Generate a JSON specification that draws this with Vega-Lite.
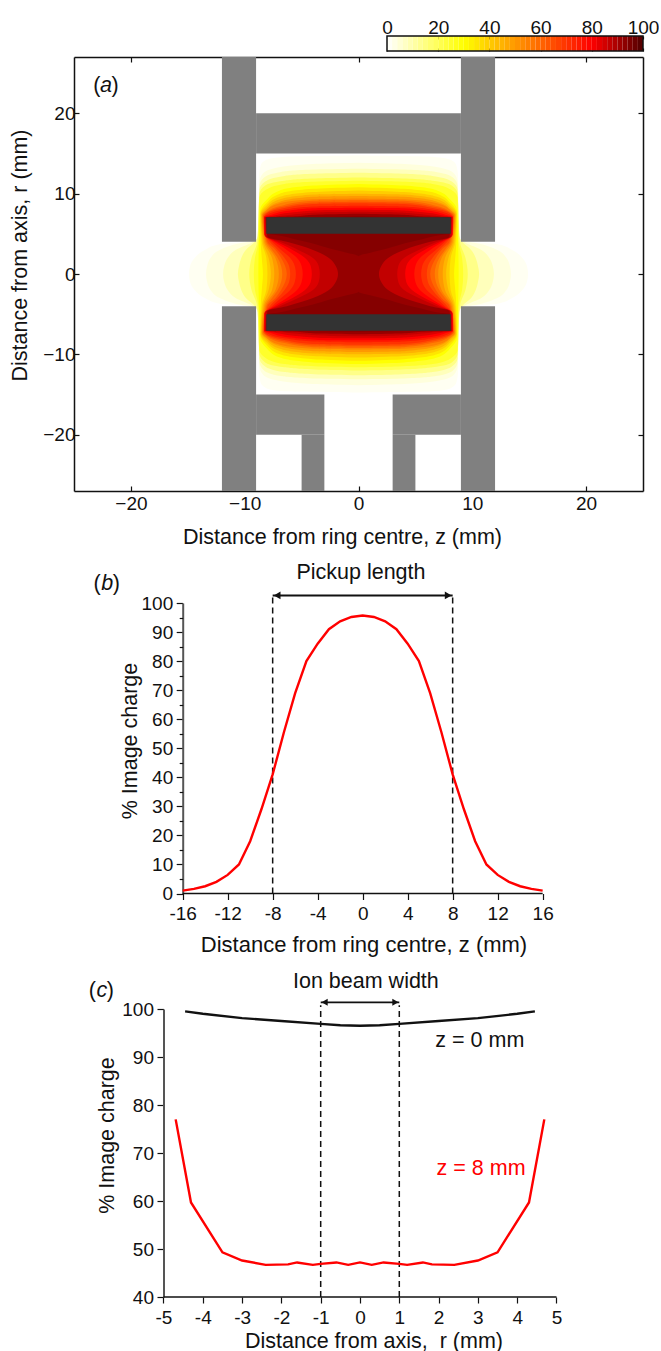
{"$schema":"https://vega.github.io/schema/vega-lite/v6.json","padding":{"left":9,"top":18,"right":0,"bottom":0},"background":"white","bounds":"flush","spacing":0,"config":{"view":{"stroke":null},"font":"Liberation Sans","axis":{"grid":false,"labelFont":"Liberation Sans","titleFont":"Liberation Sans","labelFontSize":19,"titleFontSize":21.5,"titleFontWeight":"normal","labelColor":"#111","titleColor":"#111","tickColor":"#111","domainColor":"#111","domainWidth":1.5,"tickWidth":1.2,"zindex":1,"labelOverlap":false,"labelFlush":false,"titleBaseline":"middle"},"text":{"font":"Liberation Sans","fontSize":21.5,"color":"#111"}},"vconcat":[
{"width":569,"height":15,"resolve":{"axis":{"x":"independent"}},"layer":[
{"data":{"values":[{"a":0,"b":2,"v":1},{"a":2,"b":4,"v":3},{"a":4,"b":6,"v":5},{"a":6,"b":8,"v":7},{"a":8,"b":10,"v":9},{"a":10,"b":12,"v":11},{"a":12,"b":14,"v":13},{"a":14,"b":16,"v":15},{"a":16,"b":18,"v":17},{"a":18,"b":20,"v":19},{"a":20,"b":22,"v":21},{"a":22,"b":24,"v":23},{"a":24,"b":26,"v":25},{"a":26,"b":28,"v":27},{"a":28,"b":30,"v":29},{"a":30,"b":32,"v":31},{"a":32,"b":34,"v":33},{"a":34,"b":36,"v":35},{"a":36,"b":38,"v":37},{"a":38,"b":40,"v":39},{"a":40,"b":42,"v":41},{"a":42,"b":44,"v":43},{"a":44,"b":46,"v":45},{"a":46,"b":48,"v":47},{"a":48,"b":50,"v":49},{"a":50,"b":52,"v":51},{"a":52,"b":54,"v":53},{"a":54,"b":56,"v":55},{"a":56,"b":58,"v":57},{"a":58,"b":60,"v":59},{"a":60,"b":62,"v":61},{"a":62,"b":64,"v":63},{"a":64,"b":66,"v":65},{"a":66,"b":68,"v":67},{"a":68,"b":70,"v":69},{"a":70,"b":72,"v":71},{"a":72,"b":74,"v":73},{"a":74,"b":76,"v":75},{"a":76,"b":78,"v":77},{"a":78,"b":80,"v":79},{"a":80,"b":82,"v":81},{"a":82,"b":84,"v":83},{"a":84,"b":86,"v":85},{"a":86,"b":88,"v":87},{"a":88,"b":90,"v":89},{"a":90,"b":92,"v":91},{"a":92,"b":94,"v":93},{"a":94,"b":96,"v":95},{"a":96,"b":98,"v":97},{"a":98,"b":100,"v":99}]},"mark":{"type":"rect"},"encoding":{"x":{"field":"a","type":"quantitative","scale":{"domain":[-122.27,100],"nice":false,"zero":false},"axis":{"orient":"top","domain":false,"values":[0,20,40,60,80,100],"title":null,"tickSize":-3,"labelPadding":2,"labelExpr":"''+datum.value"}},"x2":{"field":"b"},"y":{"datum":0,"type":"quantitative","scale":{"domain":[0,1],"nice":false},"axis":null},"y2":{"datum":1},"color":{"field":"v","type":"quantitative","legend":null,"scale":{"domain":[0,30,55,80,100],"range":["#ffffff","#ffff00","#ff8000","#ff0000","#500000"],"interpolate":"rgb"}}}},
{"data":{"values":[{"a":0,"b":100}]},"mark":{"type":"rect","fillOpacity":0,"stroke":"#111","strokeWidth":1.5},"encoding":{"x":{"field":"a","type":"quantitative","scale":{"domain":[-122.27,100],"nice":false,"zero":false},"axis":{"orient":"bottom","domain":false,"values":[0,20,40,60,80,100],"title":null,"tickSize":-3,"labels":false}},"x2":{"field":"b"},"y":{"datum":0,"type":"quantitative","axis":null},"y2":{"datum":1}}}
]},
{"width":1,"height":5.5,"data":{"values":[{"k":0}]},"mark":{"type":"point","opacity":0},"encoding":{}},
{"width":569,"height":434,"resolve":{"axis":{"x":"independent","y":"independent"}},"layer":[
{"data":{"name":"contours","values":[
{"L":1.5,"r":-14.75,"a":0,"b":0},{"L":1.5,"r":-14.6,"a":-6.5,"b":6.5},{"L":1.5,"r":-14.2,"a":-8.1,"b":8.1},{"L":1.5,"r":-13.5,"a":-8.6,"b":8.6},{"L":1.5,"r":-12,"a":-8.75,"b":8.75},{"L":1.5,"r":-4.5,"a":-8.8,"b":8.8},{"L":1.5,"r":-4,"a":-9.6,"b":9.6},{"L":1.5,"r":-3.7,"a":-12.2,"b":12.2},{"L":1.5,"r":-3,"a":-13.5,"b":13.5},{"L":1.5,"r":-2,"a":-14.4,"b":14.4},{"L":1.5,"r":-1,"a":-14.8,"b":14.8},{"L":1.5,"r":0,"a":-14.9,"b":14.9},{"L":1.5,"r":1,"a":-14.8,"b":14.8},{"L":1.5,"r":2,"a":-14.4,"b":14.4},{"L":1.5,"r":3,"a":-13.5,"b":13.5},{"L":1.5,"r":3.7,"a":-12.2,"b":12.2},{"L":1.5,"r":4,"a":-9.6,"b":9.6},{"L":1.5,"r":4.5,"a":-8.8,"b":8.8},{"L":1.5,"r":12,"a":-8.75,"b":8.75},{"L":1.5,"r":13.5,"a":-8.6,"b":8.6},{"L":1.5,"r":14.2,"a":-8.1,"b":8.1},{"L":1.5,"r":14.6,"a":-6.5,"b":6.5},{"L":1.5,"r":14.75,"a":0,"b":0},
{"L":4,"r":-13.85,"a":0,"b":0},{"L":4,"r":-13.7,"a":-4,"b":4},{"L":4,"r":-13.2,"a":-7.3,"b":7.3},{"L":4,"r":-12.5,"a":-8.4,"b":8.4},{"L":4,"r":-11.5,"a":-8.7,"b":8.7},{"L":4,"r":-4.2,"a":-8.9,"b":8.9},{"L":4,"r":-3.8,"a":-10.5,"b":10.5},{"L":4,"r":-3,"a":-12.2,"b":12.2},{"L":4,"r":-2,"a":-13,"b":13},{"L":4,"r":-1,"a":-13.3,"b":13.3},{"L":4,"r":0,"a":-13.4,"b":13.4},{"L":4,"r":1,"a":-13.3,"b":13.3},{"L":4,"r":2,"a":-13,"b":13},{"L":4,"r":3,"a":-12.2,"b":12.2},{"L":4,"r":3.8,"a":-10.5,"b":10.5},{"L":4,"r":4.2,"a":-8.9,"b":8.9},{"L":4,"r":11.5,"a":-8.7,"b":8.7},{"L":4,"r":12.5,"a":-8.4,"b":8.4},{"L":4,"r":13.2,"a":-7.3,"b":7.3},{"L":4,"r":13.7,"a":-4,"b":4},{"L":4,"r":13.85,"a":0,"b":0},
{"L":8,"r":-13.1,"a":0,"b":0},{"L":8,"r":-13,"a":-4,"b":4},{"L":8,"r":-12.7,"a":-6.8,"b":6.8},{"L":8,"r":-12,"a":-8.3,"b":8.3},{"L":8,"r":-11,"a":-8.7,"b":8.7},{"L":8,"r":-4.5,"a":-8.8,"b":8.8},{"L":8,"r":-3.9,"a":-9.4,"b":9.4},{"L":8,"r":-3,"a":-10.8,"b":10.8},{"L":8,"r":-2,"a":-11.5,"b":11.5},{"L":8,"r":-1,"a":-11.8,"b":11.8},{"L":8,"r":0,"a":-11.9,"b":11.9},{"L":8,"r":1,"a":-11.8,"b":11.8},{"L":8,"r":2,"a":-11.5,"b":11.5},{"L":8,"r":3,"a":-10.8,"b":10.8},{"L":8,"r":3.9,"a":-9.4,"b":9.4},{"L":8,"r":4.5,"a":-8.8,"b":8.8},{"L":8,"r":11,"a":-8.7,"b":8.7},{"L":8,"r":12,"a":-8.3,"b":8.3},{"L":8,"r":12.7,"a":-6.8,"b":6.8},{"L":8,"r":13,"a":-4,"b":4},{"L":8,"r":13.1,"a":0,"b":0},
{"L":14,"r":-12.6,"a":0,"b":0},{"L":14,"r":-12.5,"a":-3.5,"b":3.5},{"L":14,"r":-12.2,"a":-6.5,"b":6.5},{"L":14,"r":-11.5,"a":-8.2,"b":8.2},{"L":14,"r":-10.5,"a":-8.7,"b":8.7},{"L":14,"r":-5,"a":-8.8,"b":8.8},{"L":14,"r":-4,"a":-9.1,"b":9.1},{"L":14,"r":-3,"a":-9.9,"b":9.9},{"L":14,"r":-2,"a":-10.3,"b":10.3},{"L":14,"r":-1,"a":-10.5,"b":10.5},{"L":14,"r":0,"a":-10.6,"b":10.6},{"L":14,"r":1,"a":-10.5,"b":10.5},{"L":14,"r":2,"a":-10.3,"b":10.3},{"L":14,"r":3,"a":-9.9,"b":9.9},{"L":14,"r":4,"a":-9.1,"b":9.1},{"L":14,"r":5,"a":-8.8,"b":8.8},{"L":14,"r":10.5,"a":-8.7,"b":8.7},{"L":14,"r":11.5,"a":-8.2,"b":8.2},{"L":14,"r":12.2,"a":-6.5,"b":6.5},{"L":14,"r":12.5,"a":-3.5,"b":3.5},{"L":14,"r":12.6,"a":0,"b":0},
{"L":20,"r":-12,"a":0,"b":0},{"L":20,"r":-11.9,"a":-3.5,"b":3.5},{"L":20,"r":-11.6,"a":-6.5,"b":6.5},{"L":20,"r":-11,"a":-8.2,"b":8.2},{"L":20,"r":-10,"a":-8.7,"b":8.7},{"L":20,"r":-4,"a":-8.9,"b":8.9},{"L":20,"r":-2,"a":-9.4,"b":9.4},{"L":20,"r":0,"a":-9.6,"b":9.6},{"L":20,"r":2,"a":-9.4,"b":9.4},{"L":20,"r":4,"a":-8.9,"b":8.9},{"L":20,"r":10,"a":-8.7,"b":8.7},{"L":20,"r":11,"a":-8.2,"b":8.2},{"L":20,"r":11.6,"a":-6.5,"b":6.5},{"L":20,"r":11.9,"a":-3.5,"b":3.5},{"L":20,"r":12,"a":0,"b":0},
{"L":25,"r":-11.6,"a":0,"b":0},{"L":25,"r":-11.5,"a":-3.5,"b":3.5},{"L":25,"r":-11.2,"a":-6.5,"b":6.5},{"L":25,"r":-10.5,"a":-8.1,"b":8.1},{"L":25,"r":-9.5,"a":-8.7,"b":8.7},{"L":25,"r":-4,"a":-8.8,"b":8.8},{"L":25,"r":-2,"a":-9.1,"b":9.1},{"L":25,"r":0,"a":-9.2,"b":9.2},{"L":25,"r":2,"a":-9.1,"b":9.1},{"L":25,"r":4,"a":-8.8,"b":8.8},{"L":25,"r":9.5,"a":-8.7,"b":8.7},{"L":25,"r":10.5,"a":-8.1,"b":8.1},{"L":25,"r":11.2,"a":-6.5,"b":6.5},{"L":25,"r":11.5,"a":-3.5,"b":3.5},{"L":25,"r":11.6,"a":0,"b":0},
{"L":30,"r":-11.2,"a":0,"b":0},{"L":30,"r":-11,"a":-4,"b":4},{"L":30,"r":-10.4,"a":-6.9,"b":6.9},{"L":30,"r":-9.2,"a":-8.1,"b":8.1},{"L":30,"r":-8,"a":-8.65,"b":8.65},{"L":30,"r":-4,"a":-8.75,"b":8.75},{"L":30,"r":0,"a":-8.8,"b":8.8},{"L":30,"r":4,"a":-8.75,"b":8.75},{"L":30,"r":8,"a":-8.65,"b":8.65},{"L":30,"r":9.2,"a":-8.1,"b":8.1},{"L":30,"r":10.4,"a":-6.9,"b":6.9},{"L":30,"r":11,"a":-4,"b":4},{"L":30,"r":11.2,"a":0,"b":0},
{"L":35,"r":-10.8,"a":0,"b":0},{"L":35,"r":-10.6,"a":-4,"b":4},{"L":35,"r":-10,"a":-6.9,"b":6.9},{"L":35,"r":-8.8,"a":-8.1,"b":8.1},{"L":35,"r":-7.5,"a":-8.65,"b":8.65},{"L":35,"r":-4,"a":-8.6,"b":8.6},{"L":35,"r":-2,"a":-8.5,"b":8.5},{"L":35,"r":0,"a":-8.4,"b":8.4},{"L":35,"r":2,"a":-8.5,"b":8.5},{"L":35,"r":4,"a":-8.6,"b":8.6},{"L":35,"r":7.5,"a":-8.65,"b":8.65},{"L":35,"r":8.8,"a":-8.1,"b":8.1},{"L":35,"r":10,"a":-6.9,"b":6.9},{"L":35,"r":10.6,"a":-4,"b":4},{"L":35,"r":10.8,"a":0,"b":0},
{"L":40,"r":-10.4,"a":0,"b":0},{"L":40,"r":-10.2,"a":-4,"b":4},{"L":40,"r":-9.6,"a":-6.9,"b":6.9},{"L":40,"r":-8.5,"a":-8.1,"b":8.1},{"L":40,"r":-7.5,"a":-8.6,"b":8.6},{"L":40,"r":-4,"a":-8.5,"b":8.5},{"L":40,"r":-2,"a":-8.1,"b":8.1},{"L":40,"r":0,"a":-8,"b":8},{"L":40,"r":2,"a":-8.1,"b":8.1},{"L":40,"r":4,"a":-8.5,"b":8.5},{"L":40,"r":7.5,"a":-8.6,"b":8.6},{"L":40,"r":8.5,"a":-8.1,"b":8.1},{"L":40,"r":9.6,"a":-6.9,"b":6.9},{"L":40,"r":10.2,"a":-4,"b":4},{"L":40,"r":10.4,"a":0,"b":0},
{"L":45,"r":-10,"a":0,"b":0},{"L":45,"r":-9.9,"a":-4,"b":4},{"L":45,"r":-9.3,"a":-6.9,"b":6.9},{"L":45,"r":-8.2,"a":-8.1,"b":8.1},{"L":45,"r":-7.4,"a":-8.55,"b":8.55},{"L":45,"r":-4,"a":-8.4,"b":8.4},{"L":45,"r":-2,"a":-7.9,"b":7.9},{"L":45,"r":0,"a":-7.7,"b":7.7},{"L":45,"r":2,"a":-7.9,"b":7.9},{"L":45,"r":4,"a":-8.4,"b":8.4},{"L":45,"r":7.4,"a":-8.55,"b":8.55},{"L":45,"r":8.2,"a":-8.1,"b":8.1},{"L":45,"r":9.3,"a":-6.9,"b":6.9},{"L":45,"r":9.9,"a":-4,"b":4},{"L":45,"r":10,"a":0,"b":0},
{"L":50,"r":-9.7,"a":0,"b":0},{"L":50,"r":-9.6,"a":-4,"b":4},{"L":50,"r":-9,"a":-6.9,"b":6.9},{"L":50,"r":-8,"a":-8.1,"b":8.1},{"L":50,"r":-7.3,"a":-8.5,"b":8.5},{"L":50,"r":-4,"a":-8.3,"b":8.3},{"L":50,"r":-2,"a":-7.6,"b":7.6},{"L":50,"r":0,"a":-7.4,"b":7.4},{"L":50,"r":2,"a":-7.6,"b":7.6},{"L":50,"r":4,"a":-8.3,"b":8.3},{"L":50,"r":7.3,"a":-8.5,"b":8.5},{"L":50,"r":8,"a":-8.1,"b":8.1},{"L":50,"r":9,"a":-6.9,"b":6.9},{"L":50,"r":9.6,"a":-4,"b":4},{"L":50,"r":9.7,"a":0,"b":0},
{"L":55,"r":-9.4,"a":0,"b":0},{"L":55,"r":-9.3,"a":-4,"b":4},{"L":55,"r":-8.8,"a":-6.9,"b":6.9},{"L":55,"r":-7.9,"a":-8.1,"b":8.1},{"L":55,"r":-7.3,"a":-8.45,"b":8.45},{"L":55,"r":-4,"a":-8.2,"b":8.2},{"L":55,"r":-2,"a":-7.3,"b":7.3},{"L":55,"r":0,"a":-7,"b":7},{"L":55,"r":2,"a":-7.3,"b":7.3},{"L":55,"r":4,"a":-8.2,"b":8.2},{"L":55,"r":7.3,"a":-8.45,"b":8.45},{"L":55,"r":7.9,"a":-8.1,"b":8.1},{"L":55,"r":8.8,"a":-6.9,"b":6.9},{"L":55,"r":9.3,"a":-4,"b":4},{"L":55,"r":9.4,"a":0,"b":0},
{"L":60,"r":-9.2,"a":0,"b":0},{"L":60,"r":-9.1,"a":-4,"b":4},{"L":60,"r":-8.6,"a":-6.5,"b":6.5},{"L":60,"r":-7.7,"a":-8.1,"b":8.1},{"L":60,"r":-7.2,"a":-8.4,"b":8.4},{"L":60,"r":-4,"a":-8.1,"b":8.1},{"L":60,"r":-3,"a":-7.6,"b":7.6},{"L":60,"r":-2,"a":-7.1,"b":7.1},{"L":60,"r":0,"a":-6.7,"b":6.7},{"L":60,"r":2,"a":-7.1,"b":7.1},{"L":60,"r":3,"a":-7.6,"b":7.6},{"L":60,"r":4,"a":-8.1,"b":8.1},{"L":60,"r":7.2,"a":-8.4,"b":8.4},{"L":60,"r":7.7,"a":-8.1,"b":8.1},{"L":60,"r":8.6,"a":-6.5,"b":6.5},{"L":60,"r":9.1,"a":-4,"b":4},{"L":60,"r":9.2,"a":0,"b":0},
{"L":65,"r":-9,"a":0,"b":0},{"L":65,"r":-8.9,"a":-4,"b":4},{"L":65,"r":-8.4,"a":-6.5,"b":6.5},{"L":65,"r":-7.6,"a":-8.1,"b":8.1},{"L":65,"r":-7.2,"a":-8.35,"b":8.35},{"L":65,"r":-4,"a":-8,"b":8},{"L":65,"r":-3,"a":-7.3,"b":7.3},{"L":65,"r":-2,"a":-6.8,"b":6.8},{"L":65,"r":0,"a":-6.3,"b":6.3},{"L":65,"r":2,"a":-6.8,"b":6.8},{"L":65,"r":3,"a":-7.3,"b":7.3},{"L":65,"r":4,"a":-8,"b":8},{"L":65,"r":7.2,"a":-8.35,"b":8.35},{"L":65,"r":7.6,"a":-8.1,"b":8.1},{"L":65,"r":8.4,"a":-6.5,"b":6.5},{"L":65,"r":8.9,"a":-4,"b":4},{"L":65,"r":9,"a":0,"b":0},
{"L":70,"r":-8.8,"a":0,"b":0},{"L":70,"r":-8.7,"a":-4,"b":4},{"L":70,"r":-8.2,"a":-6.5,"b":6.5},{"L":70,"r":-7.5,"a":-8.1,"b":8.1},{"L":70,"r":-7,"a":-8.3,"b":8.3},{"L":70,"r":-5,"a":-8.25,"b":8.25},{"L":70,"r":-4,"a":-7.8,"b":7.8},{"L":70,"r":-3,"a":-7.1,"b":7.1},{"L":70,"r":-2,"a":-6.5,"b":6.5},{"L":70,"r":-1,"a":-6.1,"b":6.1},{"L":70,"r":0,"a":-6,"b":6},{"L":70,"r":1,"a":-6.1,"b":6.1},{"L":70,"r":2,"a":-6.5,"b":6.5},{"L":70,"r":3,"a":-7.1,"b":7.1},{"L":70,"r":4,"a":-7.8,"b":7.8},{"L":70,"r":5,"a":-8.25,"b":8.25},{"L":70,"r":7,"a":-8.3,"b":8.3},{"L":70,"r":7.5,"a":-8.1,"b":8.1},{"L":70,"r":8.2,"a":-6.5,"b":6.5},{"L":70,"r":8.7,"a":-4,"b":4},{"L":70,"r":8.8,"a":0,"b":0},
{"L":75,"r":-8.5,"a":0,"b":0},{"L":75,"r":-8.4,"a":-4,"b":4},{"L":75,"r":-8,"a":-6.5,"b":6.5},{"L":75,"r":-7.4,"a":-8,"b":8},{"L":75,"r":-7,"a":-8.3,"b":8.3},{"L":75,"r":-5,"a":-8.3,"b":8.3},{"L":75,"r":-4,"a":-7.6,"b":7.6},{"L":75,"r":-3,"a":-6.8,"b":6.8},{"L":75,"r":-2,"a":-6,"b":6},{"L":75,"r":-1,"a":-5.6,"b":5.6},{"L":75,"r":0,"a":-5.5,"b":5.5},{"L":75,"r":1,"a":-5.6,"b":5.6},{"L":75,"r":2,"a":-6,"b":6},{"L":75,"r":3,"a":-6.8,"b":6.8},{"L":75,"r":4,"a":-7.6,"b":7.6},{"L":75,"r":5,"a":-8.3,"b":8.3},{"L":75,"r":7,"a":-8.3,"b":8.3},{"L":75,"r":7.4,"a":-8,"b":8},{"L":75,"r":8,"a":-6.5,"b":6.5},{"L":75,"r":8.4,"a":-4,"b":4},{"L":75,"r":8.5,"a":0,"b":0},
{"L":80,"r":-8.25,"a":0,"b":0},{"L":80,"r":-8.2,"a":-3.5,"b":3.5},{"L":80,"r":-7.9,"a":-6,"b":6},{"L":80,"r":-7.3,"a":-7.8,"b":7.8},{"L":80,"r":-7.1,"a":-8.3,"b":8.3},{"L":80,"r":-4.85,"a":-8.25,"b":8.25},{"L":80,"r":-4,"a":-7.4,"b":7.4},{"L":80,"r":-3,"a":-6.3,"b":6.3},{"L":80,"r":-2,"a":-5.4,"b":5.4},{"L":80,"r":-1,"a":-5,"b":5},{"L":80,"r":0,"a":-4.9,"b":4.9},{"L":80,"r":1,"a":-5,"b":5},{"L":80,"r":2,"a":-5.4,"b":5.4},{"L":80,"r":3,"a":-6.3,"b":6.3},{"L":80,"r":4,"a":-7.4,"b":7.4},{"L":80,"r":4.85,"a":-8.25,"b":8.25},{"L":80,"r":7.1,"a":-8.3,"b":8.3},{"L":80,"r":7.3,"a":-7.8,"b":7.8},{"L":80,"r":7.9,"a":-6,"b":6},{"L":80,"r":8.2,"a":-3.5,"b":3.5},{"L":80,"r":8.25,"a":0,"b":0},
{"L":84,"r":-8,"a":0,"b":0},{"L":84,"r":-7.95,"a":-3,"b":3},{"L":84,"r":-7.7,"a":-5.5,"b":5.5},{"L":84,"r":-7.25,"a":-7.5,"b":7.5},{"L":84,"r":-7.05,"a":-8.25,"b":8.25},{"L":84,"r":-4.8,"a":-8.2,"b":8.2},{"L":84,"r":-4,"a":-7.2,"b":7.2},{"L":84,"r":-3,"a":-5.8,"b":5.8},{"L":84,"r":-2,"a":-4.7,"b":4.7},{"L":84,"r":-1,"a":-4.2,"b":4.2},{"L":84,"r":0,"a":-4.1,"b":4.1},{"L":84,"r":1,"a":-4.2,"b":4.2},{"L":84,"r":2,"a":-4.7,"b":4.7},{"L":84,"r":3,"a":-5.8,"b":5.8},{"L":84,"r":4,"a":-7.2,"b":7.2},{"L":84,"r":4.8,"a":-8.2,"b":8.2},{"L":84,"r":7.05,"a":-8.25,"b":8.25},{"L":84,"r":7.25,"a":-7.5,"b":7.5},{"L":84,"r":7.7,"a":-5.5,"b":5.5},{"L":84,"r":7.95,"a":-3,"b":3},{"L":84,"r":8,"a":0,"b":0},
{"L":87,"r":-7.75,"a":0,"b":0},{"L":87,"r":-7.7,"a":-2.5,"b":2.5},{"L":87,"r":-7.5,"a":-5,"b":5},{"L":87,"r":-7.2,"a":-7,"b":7},{"L":87,"r":-7.05,"a":-8.2,"b":8.2},{"L":87,"r":-4.7,"a":-8.15,"b":8.15},{"L":87,"r":-4,"a":-6.9,"b":6.9},{"L":87,"r":-3,"a":-5.3,"b":5.3},{"L":87,"r":-2,"a":-4,"b":4},{"L":87,"r":-1,"a":-3.5,"b":3.5},{"L":87,"r":0,"a":-3.4,"b":3.4},{"L":87,"r":1,"a":-3.5,"b":3.5},{"L":87,"r":2,"a":-4,"b":4},{"L":87,"r":3,"a":-5.3,"b":5.3},{"L":87,"r":4,"a":-6.9,"b":6.9},{"L":87,"r":4.7,"a":-8.15,"b":8.15},{"L":87,"r":7.05,"a":-8.2,"b":8.2},{"L":87,"r":7.2,"a":-7,"b":7},{"L":87,"r":7.5,"a":-5,"b":5},{"L":87,"r":7.7,"a":-2.5,"b":2.5},{"L":87,"r":7.75,"a":0,"b":0},
{"L":92,"r":-7.5,"a":0,"b":0},{"L":92,"r":-7.4,"a":-3.5,"b":3.5},{"L":92,"r":-7.15,"a":-6,"b":6},{"L":92,"r":-7.05,"a":-8.15,"b":8.15},{"L":92,"r":-4.6,"a":-8,"b":8},{"L":92,"r":-4,"a":-6.3,"b":6.3},{"L":92,"r":-3,"a":-4,"b":4},{"L":92,"r":-2,"a":-2.6,"b":2.6},{"L":92,"r":-1,"a":-2,"b":2},{"L":92,"r":0,"a":-1.8,"b":1.8},{"L":92,"r":1,"a":-2,"b":2},{"L":92,"r":2,"a":-2.6,"b":2.6},{"L":92,"r":3,"a":-4,"b":4},{"L":92,"r":4,"a":-6.3,"b":6.3},{"L":92,"r":4.6,"a":-8,"b":8},{"L":92,"r":7.05,"a":-8.15,"b":8.15},{"L":92,"r":7.15,"a":-6,"b":6},{"L":92,"r":7.4,"a":-3.5,"b":3.5},{"L":92,"r":7.5,"a":0,"b":0},
{"L":94,"r":-7.2,"a":0,"b":0},{"L":94,"r":-7.1,"a":-4,"b":4},{"L":94,"r":-7,"a":-7.9,"b":7.9},{"L":94,"r":-5,"a":-8,"b":8},{"L":94,"r":-4.8,"a":-7,"b":7},{"L":94,"r":-4.3,"a":-5.5,"b":5.5},{"L":94,"r":-3.8,"a":-4,"b":4},{"L":94,"r":-3.2,"a":-2.6,"b":2.6},{"L":94,"r":-2.7,"a":-1.2,"b":1.2},{"L":94,"r":-2.2,"a":0,"b":0},{"L":94,"r":2.2,"a":0,"b":0},{"L":94,"r":2.7,"a":-1.2,"b":1.2},{"L":94,"r":3.2,"a":-2.6,"b":2.6},{"L":94,"r":3.8,"a":-4,"b":4},{"L":94,"r":4.3,"a":-5.5,"b":5.5},{"L":94,"r":4.8,"a":-7,"b":7},{"L":94,"r":5,"a":-8,"b":8},{"L":94,"r":7,"a":-7.9,"b":7.9},{"L":94,"r":7.1,"a":-4,"b":4},{"L":94,"r":7.2,"a":0,"b":0}
]},"mark":{"type":"area","orient":"horizontal","interpolate":"monotone"},"encoding":{"y":{"field":"r","type":"quantitative","scale":{"domain":[-27,27],"nice":false,"zero":false},"axis":{"orient":"left","values":[-20,-10,0,10,20],"tickSize":-5,"labelPadding":4,"labelExpr":"replace(''+datum.value,'-','−')","title":"Distance from axis, r (mm)","titleX":-54,"titleY":198}},"x":{"field":"a","type":"quantitative","scale":{"domain":[-25,25],"nice":false,"zero":false},"axis":{"orient":"bottom","values":[-20,-10,0,10,20],"tickSize":-5,"labelPadding":8,"labelExpr":"replace(''+datum.value,'-','−')","title":"Distance from ring centre, z (mm)","titleX":268,"titleY":46}},"x2":{"field":"b"},"detail":{"field":"L"},"color":{"field":"L","type":"quantitative","legend":null,"scale":{"domain":[0,30,55,80,100],"range":["#ffffff","#ffff00","#ff8000","#ff0000","#500000"],"interpolate":"rgb"}}}},
{"data":{"values":[{"z1":-12,"z2":-9,"r1":4,"r2":27},{"z1":9,"z2":12,"r1":4,"r2":27},{"z1":-9,"z2":9,"r1":15,"r2":20},{"z1":-12,"z2":-9,"r1":-27,"r2":-4},{"z1":9,"z2":12,"r1":-27,"r2":-4},{"z1":-9,"z2":-3,"r1":-20,"r2":-15},{"z1":3,"z2":9,"r1":-20,"r2":-15},{"z1":-5,"z2":-3,"r1":-27,"r2":-20},{"z1":3,"z2":5,"r1":-27,"r2":-20}]},"mark":{"type":"rect","color":"#808080"},"encoding":{"x":{"field":"z1","type":"quantitative","scale":{"domain":[-25,25],"nice":false,"zero":false},"axis":{"orient":"top","values":[-20,-10,0,10,20],"tickSize":-5,"labels":false,"title":null}},"x2":{"field":"z2"},"y":{"field":"r1","type":"quantitative","scale":{"domain":[-27,27],"nice":false,"zero":false},"axis":{"orient":"right","values":[-20,-10,0,10,20],"tickSize":-5,"labels":false,"title":null}},"y2":{"field":"r2"}}},
{"data":{"values":[{"z1":-8.1,"z2":8.1,"r1":5,"r2":7.05},{"z1":-8.1,"z2":8.1,"r1":-7.05,"r2":-5}]},"mark":{"type":"rect","color":"#333333"},"encoding":{"x":{"field":"z1","type":"quantitative","axis":null},"x2":{"field":"z2"},"y":{"field":"r1","type":"quantitative","axis":null},"y2":{"field":"r2"}}},
{"data":{"values":[{"z":-23,"r":23.4,"t":"("},{"z":-21.4,"r":23.4,"t":")"}]},"mark":{"type":"text","baseline":"middle"},"encoding":{"x":{"field":"z","type":"quantitative","axis":null},"y":{"field":"r","type":"quantitative","axis":null},"text":{"field":"t"}}},
{"data":{"values":[{"z":-22.2,"r":23.4,"t":"a"}]},"mark":{"type":"text","baseline":"middle","fontStyle":"italic"},"encoding":{"x":{"field":"z","type":"quantitative","axis":null},"y":{"field":"r","type":"quantitative","axis":null},"text":{"field":"t"}}}
]},
{"width":1,"height":111.5,"data":{"values":[{"k":0}]},"mark":{"type":"point","opacity":0},"encoding":{}},
{"width":569,"height":290.5,"resolve":{"axis":{"y":"independent"}},"layer":[
{"data":{"values":[{"x":-8,"y1":0,"y2":102.6},{"x":8,"y1":0,"y2":102.6}]},"mark":{"type":"rule","strokeDash":[6,4],"strokeWidth":1.5,"color":"#111"},"encoding":{"x":{"field":"x","type":"quantitative","scale":{"domain":[-25.66,24.92],"nice":false,"zero":false},"axis":{"domain":false,"values":[-16,-14,-12,-10,-8,-6,-4,-2,0,2,4,6,8,10,12,14,16],"tickSize":{"condition":{"test":"datum.value % 4 === 0","value":6},"value":3.5},"labelPadding":5,"labelOverlap":false,"labelExpr":"datum.value % 4 === 0 ? ''+datum.value : ''","title":"Distance from ring centre, z (mm)","titleFontSize":22,"titleX":289.5,"titleY":51}},"y":{"field":"y1","type":"quantitative","scale":{"domain":[0,100],"nice":false},"axis":{"orient":"left","offset":-108.7,"values":[0,10,20,30,40,50,60,70,80,90,100],"tickSize":6.5,"labelPadding":3.5,"labelOverlap":false,"labelExpr":"''+datum.value","title":"% Image charge","titleX":-52,"titleY":137.5,"domainColor":"#555","domainWidth":2}},"y2":{"field":"y2"}}},
{"data":{"values":[{"x1":-16,"x2":16,"y":0}]},"mark":{"type":"rule","strokeWidth":1.5,"color":"#111"},"encoding":{"x":{"field":"x1","type":"quantitative"},"x2":{"field":"x2"},"y":{"field":"y","type":"quantitative","scale":{"domain":[0,100],"nice":false},"axis":{"orient":"left","offset":-108.7,"values":[5,15,25,35,45,55,65,75,85,95],"tickSize":3.5,"labels":false,"domain":false,"title":null}}}},
{"data":{"values":[{"x1":-8,"x2":8,"y":102.6}]},"mark":{"type":"rule","strokeWidth":2,"color":"#111"},"encoding":{"x":{"field":"x1","type":"quantitative"},"x2":{"field":"x2"},"y":{"field":"y","type":"quantitative","axis":null}}},
{"data":{"values":[{"x":-7.6,"y":102.6,"s":"triangle-left"},{"x":7.6,"y":102.6,"s":"triangle-right"}]},"mark":{"type":"point","filled":true,"size":60,"opacity":1,"color":"#111"},"encoding":{"x":{"field":"x","type":"quantitative"},"y":{"field":"y","type":"quantitative","axis":null},"shape":{"field":"s","type":"nominal","scale":null,"legend":null}}},
{"data":{"values":[{"z":-16,"v":1},{"z":-15,"v":1.6},{"z":-14,"v":2.5},{"z":-13,"v":4},{"z":-12,"v":6.4},{"z":-11,"v":10},{"z":-10,"v":18},{"z":-9,"v":29},{"z":-8,"v":41},{"z":-7,"v":55.5},{"z":-6,"v":69},{"z":-5,"v":80},{"z":-4,"v":86},{"z":-3,"v":91},{"z":-2,"v":93.7},{"z":-1,"v":95.2},{"z":0,"v":95.7},{"z":1,"v":95.2},{"z":2,"v":93.7},{"z":3,"v":91},{"z":4,"v":86},{"z":5,"v":80},{"z":6,"v":69},{"z":7,"v":55.5},{"z":8,"v":41},{"z":9,"v":29},{"z":10,"v":18},{"z":11,"v":10},{"z":12,"v":6.4},{"z":13,"v":4},{"z":14,"v":2.5},{"z":15,"v":1.6},{"z":16,"v":1}]},"mark":{"type":"line","color":"#ff0000","strokeWidth":2.4},"encoding":{"x":{"field":"z","type":"quantitative"},"y":{"field":"v","type":"quantitative","axis":null}}},
{"data":{"values":[{"x":-0.15,"y":110.2,"t":"Pickup length"}]},"mark":{"type":"text","baseline":"middle"},"encoding":{"x":{"field":"x","type":"quantitative"},"y":{"field":"y","type":"quantitative","axis":null},"text":{"field":"t"}}},
{"data":{"values":[{"x":-23.6,"y":106.4,"t":"("},{"x":-21.9,"y":106.4,"t":")"}]},"mark":{"type":"text","baseline":"middle"},"encoding":{"x":{"field":"x","type":"quantitative"},"y":{"field":"y","type":"quantitative","axis":null},"text":{"field":"t"}}},
{"data":{"values":[{"x":-22.7,"y":106.4,"t":"b"}]},"mark":{"type":"text","baseline":"middle","fontStyle":"italic"},"encoding":{"x":{"field":"x","type":"quantitative"},"y":{"field":"y","type":"quantitative","axis":null},"text":{"field":"t"}}}
]},
{"width":1,"height":114.7,"data":{"values":[{"k":0}]},"mark":{"type":"point","opacity":0},"encoding":{}},
{"width":569,"height":288,"layer":[
{"data":{"values":[{"x":-1,"y1":40,"y2":100.8},{"x":1,"y1":40,"y2":100.8}]},"mark":{"type":"rule","strokeDash":[6,4],"strokeWidth":1.5,"color":"#111"},"encoding":{"x":{"field":"x","type":"quantitative","scale":{"domain":[-7.277,7.201],"nice":false,"zero":false},"axis":{"domain":false,"values":[-5,-4.5,-4,-3.5,-3,-2.5,-2,-1.5,-1,-0.5,0,0.5,1,1.5,2,2.5,3,3.5,4,4.5,5],"tickSize":{"condition":{"test":"datum.value % 1 === 0","value":6},"value":3.5},"labelPadding":5,"labelOverlap":false,"labelExpr":"datum.value % 1 === 0 ? ''+datum.value : ''","title":"Distance from axis,\u00a0\u00a0r (mm)","titleX":299.5,"titleY":44}},"y":{"field":"y1","type":"quantitative","scale":{"domain":[40,100],"nice":false,"zero":false},"axis":{"offset":-89.5,"values":[40,45,50,55,60,65,70,75,80,85,90,95,100],"tickSize":{"condition":{"test":"datum.value % 10 === 0","value":6.5},"value":3.5},"labelPadding":3.5,"labelOverlap":false,"labelExpr":"datum.value % 10 === 0 ? ''+datum.value : ''","title":"% Image charge","titleX":-56.5,"titleY":126,"domainColor":"#555","domainWidth":2}},"y2":{"field":"y2"}}},
{"data":{"values":[{"x1":-5,"x2":5,"y":40}]},"mark":{"type":"rule","strokeWidth":1.5,"color":"#111"},"encoding":{"x":{"field":"x1","type":"quantitative"},"x2":{"field":"x2"},"y":{"field":"y","type":"quantitative"}}},
{"data":{"values":[{"x1":-1,"x2":1,"y":101.4}]},"mark":{"type":"rule","strokeWidth":1.8,"color":"#111"},"encoding":{"x":{"field":"x1","type":"quantitative"},"x2":{"field":"x2"},"y":{"field":"y","type":"quantitative"}}},
{"data":{"values":[{"x":-0.9,"y":101.4,"s":"triangle-left"},{"x":0.9,"y":101.4,"s":"triangle-right"}]},"mark":{"type":"point","filled":true,"size":50,"opacity":1,"color":"#111"},"encoding":{"x":{"field":"x","type":"quantitative"},"y":{"field":"y","type":"quantitative"},"shape":{"field":"s","type":"nominal","scale":null,"legend":null}}},
{"data":{"values":[{"r":-4.45,"v":99.5},{"r":-4,"v":99},{"r":-3,"v":98.1},{"r":-2,"v":97.5},{"r":-1,"v":96.9},{"r":-0.5,"v":96.6},{"r":0,"v":96.5},{"r":0.5,"v":96.6},{"r":1,"v":96.9},{"r":2,"v":97.5},{"r":3,"v":98.1},{"r":4,"v":99},{"r":4.45,"v":99.5}]},"mark":{"type":"line","color":"#111","strokeWidth":2.4},"encoding":{"x":{"field":"r","type":"quantitative"},"y":{"field":"v","type":"quantitative"}}},
{"data":{"values":[{"r":-4.69,"v":77},{"r":-4.3,"v":59.7},{"r":-3.5,"v":49.3},{"r":-3,"v":47.6},{"r":-2.4,"v":46.7},{"r":-1.83,"v":46.8},{"r":-1.6,"v":47.2},{"r":-1.2,"v":46.7},{"r":-1,"v":46.9},{"r":-0.6,"v":47.2},{"r":-0.3,"v":46.7},{"r":0,"v":47.2},{"r":0.3,"v":46.7},{"r":0.6,"v":47.2},{"r":1,"v":46.9},{"r":1.2,"v":46.7},{"r":1.6,"v":47.2},{"r":1.83,"v":46.8},{"r":2.4,"v":46.7},{"r":3,"v":47.6},{"r":3.5,"v":49.3},{"r":4.3,"v":59.7},{"r":4.69,"v":77}]},"mark":{"type":"line","color":"#ff0000","strokeWidth":2.4},"encoding":{"x":{"field":"r","type":"quantitative"},"y":{"field":"v","type":"quantitative"}}},
{"data":{"values":[{"x":0.15,"y":105.6,"t":"Ion beam width"},{"x":3.05,"y":93.3,"t":"z = 0 mm"}]},"mark":{"type":"text","baseline":"middle"},"encoding":{"x":{"field":"x","type":"quantitative"},"y":{"field":"y","type":"quantitative"},"text":{"field":"t"}}},
{"data":{"values":[{"x":3.08,"y":66.6,"t":"z = 8 mm"}]},"mark":{"type":"text","baseline":"middle","color":"#ff0000"},"encoding":{"x":{"field":"x","type":"quantitative"},"y":{"field":"y","type":"quantitative"},"text":{"field":"t"}}},
{"data":{"values":[{"x":-6.81,"y":103.7,"t":"("},{"x":-6.35,"y":103.7,"t":")"}]},"mark":{"type":"text","baseline":"middle"},"encoding":{"x":{"field":"x","type":"quantitative"},"y":{"field":"y","type":"quantitative"},"text":{"field":"t"}}},
{"data":{"values":[{"x":-6.57,"y":103.7,"t":"c"}]},"mark":{"type":"text","baseline":"middle","fontStyle":"italic"},"encoding":{"x":{"field":"x","type":"quantitative"},"y":{"field":"y","type":"quantitative"},"text":{"field":"t"}}}
]}
]}
